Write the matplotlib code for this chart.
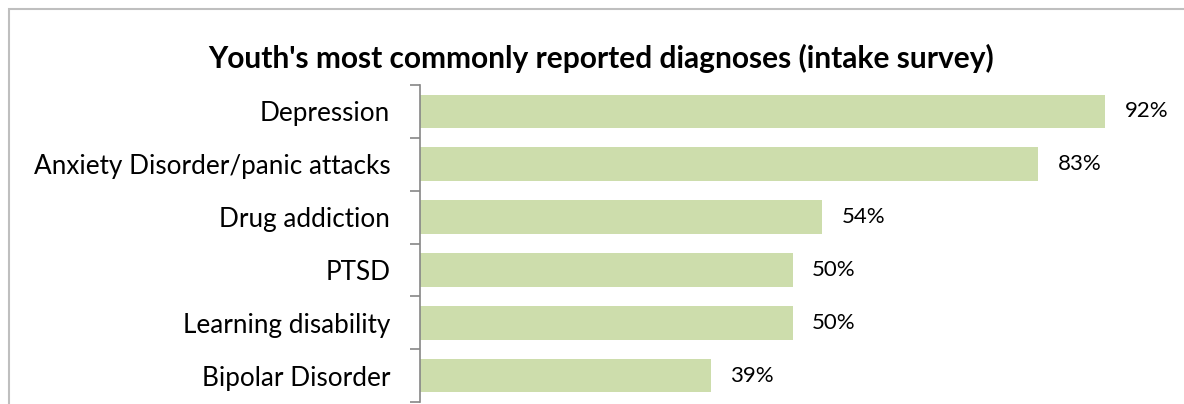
import matplotlib.pyplot as plt
from matplotlib.patches import Rectangle

plt.rcParams['font.family'] = ['Lato', 'DejaVu Sans']

categories = ['Depression', 'Anxiety Disorder/panic attacks', 'Drug addiction',
              'PTSD', 'Learning disability', 'Bipolar Disorder']
values = [92, 83, 54, 50, 50, 39]
labels = ['92%', '83%', '54%', '50%', '50%', '39%']

W, H = 1184, 404
fig = plt.figure(figsize=(W / 100, H / 100), dpi=100)

# chart frame (only top and left edges fall inside the image)
fig.patches.append(Rectangle((9 / W, -0.1), 1.2, (H - 9) / H + 0.1,
                             transform=fig.transFigure, fill=False,
                             edgecolor='#BFBFBF', linewidth=1.5))

ax = fig.add_axes([420 / W, 2 / H, (1165 - 420) / W, (402 - 85) / H])

n = len(categories)
ypos = list(range(n))
ax.barh(ypos, values, height=0.64, color='#CDDDAC')
for y, v, t in zip(ypos, values, labels):
    ax.text(v + 2.6, y, t, va='center', ha='left', fontsize=16, color='#000000')

ax.set_xlim(0, 100)
ax.set_ylim(n - 0.5, -0.5)
ax.set_yticks(ypos)
ax.set_yticklabels(categories, fontsize=18.8)
ax.tick_params(axis='y', which='major', length=0, pad=21.5)
ax.set_yticks([i - 0.5 for i in range(n + 1)], minor=True)
ax.tick_params(axis='y', which='minor', length=7, width=1.2, color='#868686')
ax.set_xticks([])
for s in ['top', 'right', 'bottom']:
    ax.spines[s].set_visible(False)
ax.spines['left'].set_color('#868686')
ax.spines['left'].set_linewidth(1.2)

fig.text(601 / W, 1 - 58 / H, "Youth's most commonly reported diagnoses (intake survey)",
         ha='center', va='center', fontsize=21.5, fontweight='bold')

fig.savefig('out.png', dpi=100)
